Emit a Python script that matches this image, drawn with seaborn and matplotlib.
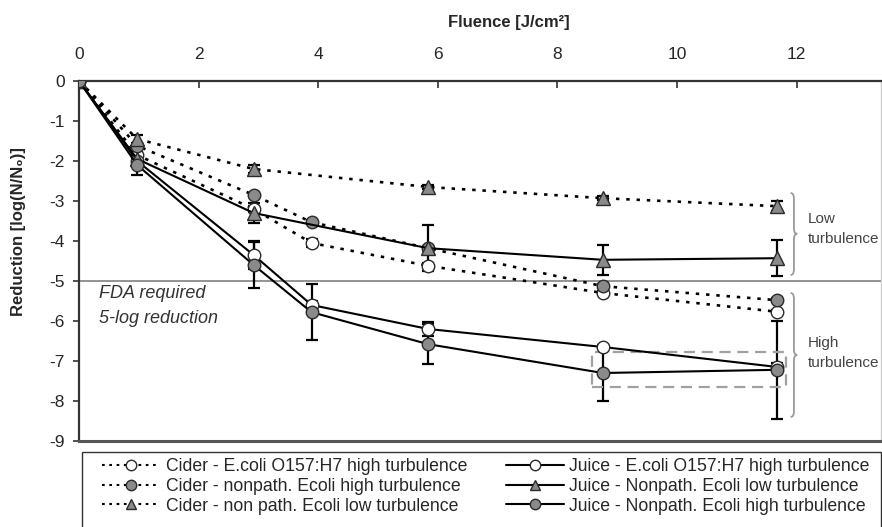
import numpy as np
import pandas as pd
import seaborn as sns
import matplotlib
matplotlib.use("Agg")
import matplotlib.pyplot as plt
from matplotlib.path import Path
from matplotlib.patches import PathPatch, Rectangle
from matplotlib.font_manager import FontProperties
from matplotlib.lines import Line2D

# ---------------- data ----------------
fluence = [0, 0.973, 2.92, 3.89, 5.84, 8.76, 11.68]
fluence_low = [0, 0.973, 2.92, 5.84, 8.76, 11.68]

cider_ecoli_high = [0, -1.85, -3.2, -4.05, -4.62, -5.3, -5.77]
cider_ecoli_high_err = [0, 0.08, 0.08, 0.1, 0.06, 0.05, 0.05]

cider_np_high = [0, -1.62, -2.85, -3.53, -4.18, -5.13, -5.48]
cider_np_high_err = [0, 0.05, 0.05, 0.05, 0.05, 0.05, 0.05]

cider_np_low = [0, -1.45, -2.2, -2.65, -2.93, -3.13]
cider_np_low_err = [0, 0.1, 0.1, 0.05, 0.05, 0.12]

juice_ecoli_high = [0, -2.0, -4.35, -5.6, -6.2, -6.65, -7.15]
juice_ecoli_high_err = [0, 0.1, 0.35, 0.1, 0.18, 0.05, 0.1]

juice_np_low = [0, -1.95, -3.3, -4.18, -4.47, -4.43]
juice_np_low_err = [0, 0.1, 0.25, 0.58, 0.37, 0.45]

juice_np_high = [0, -2.1, -4.6, -5.78, -6.58, -7.3, -7.22]
juice_np_high_err = [0, 0.25, 0.57, 0.7, 0.5, 0.7, 1.22]

labels_left = ["Cider - E.coli O157:H7 high turbulence",
               "Cider - nonpath. Ecoli high turbulence",
               "Cider - non path. Ecoli low turbulence"]
labels_right = ["Juice - E.coli O157:H7 high turbulence",
                "Juice - Nonpath. Ecoli low turbulence",
                "Juice - Nonpath. Ecoli high turbulence"]

x_ticks = [0, 2, 4, 6, 8, 10, 12]
y_ticks = [0, -1, -2, -3, -4, -5, -6, -7, -8, -9]
fda_level = -5

# ---------------- style ----------------
sns.set_style("white")
plt.rcParams["font.family"] = ["Liberation Sans", "DejaVu Sans"]
plt.rcParams["axes.unicode_minus"] = False

W, H = 882, 527
fig = plt.figure(figsize=(W / 100, H / 100), dpi=100)
ax = fig.add_axes([79 / W, 1 - 441 / H, (881 - 79) / W, (441 - 81) / H])

GRAY = "#8a8a8a"
EDGE = "#2a2a2a"
dotted = (0, (1.3, 2.6))

series = [
    (fluence, cider_ecoli_high, cider_ecoli_high_err, labels_left[0], "o", "white", dotted),
    (fluence, cider_np_high, cider_np_high_err, labels_left[1], "o", GRAY, dotted),
    (fluence_low, cider_np_low, cider_np_low_err, labels_left[2], "^", GRAY, dotted),
    (fluence, juice_ecoli_high, juice_ecoli_high_err, labels_right[0], "o", "white", "-"),
    (fluence_low, juice_np_low, juice_np_low_err, labels_right[1], "^", GRAY, "-"),
    (fluence, juice_np_high, juice_np_high_err, labels_right[2], "o", GRAY, "-"),
]

handles = []
for i, (xs, ys, es, lab, mk, fc, ls) in enumerate(series):
    df = pd.DataFrame({"x": xs, "y": ys})
    lw = 1.9 if ls is dotted else 1.5
    ax.errorbar(xs, ys, yerr=es, fmt="none", ecolor="black", elinewidth=1.6,
                capsize=4.5, capthick=1.6, zorder=2 + i * 0.1)
    sns.lineplot(data=df, x="x", y="y", ax=ax, color="black", linestyle=ls,
                 linewidth=lw, marker=mk, markersize=9.5 if mk == "^" else 9,
                 markerfacecolor=fc, markeredgecolor=EDGE, markeredgewidth=1.0,
                 zorder=3 + i * 0.1, legend=False, sort=True, estimator=None)
    handles.append(Line2D([], [], color="black",
                          linestyle=(0, (1.3, 2.2)) if ls is dotted else "-",
                          linewidth=1.5,
                          marker=mk, markersize=7.5, markerfacecolor=fc,
                          markeredgecolor=EDGE, markeredgewidth=1.0, label=lab))

# FDA line
ax.axhline(fda_level, color=GRAY, lw=1.3, zorder=1)
ax.text(0.33, -5.3, "FDA required", style="italic", fontsize=13, color="#333333",
        va="center", ha="left")
ax.text(0.33, -5.93, "5-log reduction", style="italic", fontsize=13, color="#333333",
        va="center", ha="left")

# dashed rectangle
ax.add_patch(Rectangle((8.58, -7.65), 3.24, 0.87, fill=False, edgecolor="#a0a0a0",
                       lw=1.6, linestyle=(0, (5, 3)), zorder=2.5))


def brace(ax, x0, yt, yb, ym, w=0.11, r=0.14):
    xm = x0 + w / 2
    verts = [(x0, yt), (xm, yt), (xm, yt - r),
             (xm, ym + r),
             (xm, ym), (x0 + w, ym),
             (xm, ym), (xm, ym - r),
             (xm, yb + r),
             (xm, yb), (x0, yb)]
    codes = [Path.MOVETO, Path.CURVE3, Path.CURVE3, Path.LINETO,
             Path.CURVE3, Path.CURVE3, Path.CURVE3, Path.CURVE3,
             Path.LINETO, Path.CURVE3, Path.CURVE3]
    ax.add_patch(PathPatch(Path(verts, codes), fill=False, edgecolor="#9a9a9a",
                           lw=1.3, clip_on=False))


brace(ax, 11.9, -2.8, -4.85, -3.82)
brace(ax, 11.9, -5.3, -8.4, -6.85)
ax.text(12.18, -3.7, "Low\nturbulence", fontsize=11, color="#444444",
        va="center", ha="left", linespacing=1.5)
ax.text(12.18, -6.8, "High\nturbulence", fontsize=11, color="#444444",
        va="center", ha="left", linespacing=1.5)

# axes
ax.set_xlim(0, (881 - 79) / 59.8)
ax.set_ylim(-9, 0)
ax.xaxis.tick_top()
ax.set_xticks(x_ticks)
ax.set_xticklabels([str(v) for v in x_ticks])
ax.set_yticks(y_ticks)
ax.set_yticklabels([str(v) for v in y_ticks])
ax.tick_params(axis="x", direction="in", length=5, width=1.2, color="#333333",
               labelsize=12.5, pad=14, top=True, bottom=False)
ax.tick_params(axis="y", direction="out", length=4, width=1.2, color="#333333",
               labelsize=12.5, pad=6, left=True)
ax.set_xlabel("")
ax.set_ylabel("")
for s in ["left", "top"]:
    ax.spines[s].set_color("#333333")
    ax.spines[s].set_linewidth(1.6)
ax.spines["bottom"].set_color("#555555")
ax.spines["bottom"].set_linewidth(2.2)
ax.spines["right"].set_color("#cccccc")
ax.spines["right"].set_linewidth(1.0)

fig.text(509 / W, 1 - 22 / H, "Fluence [J/cm²]", fontsize=12, fontweight="bold",
         ha="center", va="center")
fig.text(19 / W, 1 - 232 / H, "Reduction [log(N/N₀)]", fontsize=12,
         fontweight="bold", rotation=90, ha="center", va="center")

# legend
fig.add_artist(Rectangle((82 / W, -0.02), (881 - 82) / W, (527 - 452) / H + 0.02,
                         transform=fig.transFigure, fill=False,
                         edgecolor="#333333", lw=1.0))
prop = FontProperties(family=["Liberation Sans"], size=12.7)
leg = fig.legend(handles=handles, ncol=2, loc="upper left",
                 bbox_to_anchor=(102 / W, 1 - 458 / H), prop=prop,
                 frameon=False, handlelength=3.3,
                 handletextpad=0.3, columnspacing=2.2, labelspacing=0.16,
                 borderpad=0, borderaxespad=0)

fig.savefig("out.png", dpi=100)
